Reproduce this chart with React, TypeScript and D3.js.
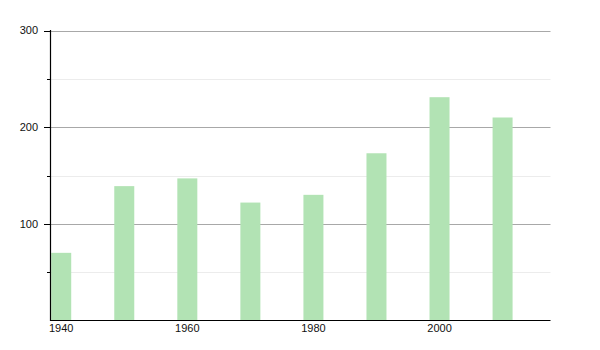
import React from "react";
import * as d3 from "d3";

const years = [1940, 1950, 1960, 1970, 1980, 1990, 2000, 2010];
const values = [70, 139, 147, 122, 130, 173, 231, 210];
const yMajorTicks = [100, 200, 300];
const yMinorTicks = [50, 150, 250];
const xTickLabels = [1940, 1960, 1980, 2000];

export default function App() {
  const W = 600, H = 350;
  const x = d3.scaleLinear().domain([1938.3, 2017.6]).range([50.5, 550.5]);
  const y = d3.scaleLinear().domain([0, 300]).range([320.5, 30.5]);
  const barW = 20;
  const font = "'Liberation Sans', Arial, sans-serif";
  return (
    <svg width={W} height={H} style={{ position: "absolute", left: 0, top: 0 }}>
      <rect width={W} height={H} fill="#fff" />
      {yMinorTicks.map((t) => (
        <line key={"mg" + t} x1={50.5} x2={550.5} y1={Math.round(y(t)) + 0.5} y2={Math.round(y(t)) + 0.5} stroke="#ececec" />
      ))}
      {yMajorTicks.map((t) => (
        <line key={"g" + t} x1={50.5} x2={550.5} y1={Math.round(y(t)) + 0.5} y2={Math.round(y(t)) + 0.5} stroke="#a8a8a8" />
      ))}
      {years.map((yr, i) => (
        <rect key={yr} x={x(yr) - barW / 2} y={y(values[i])} width={barW} height={y(0) - y(values[i])} fill="#b2e3b4" />
      ))}
      <line x1={50.5} x2={50.5} y1={30} y2={321} stroke="#000" strokeWidth={1.2} />
      <line x1={50} x2={550.5} y1={320.5} y2={320.5} stroke="#000" strokeWidth={1.2} />
      {yMajorTicks.map((t) => (
        <g key={"t" + t}>
          <line x1={44} x2={50.5} y1={Math.round(y(t)) + 0.5} y2={Math.round(y(t)) + 0.5} stroke="#000" />
          <text x={38} y={y(t)} dy="0.35em" textAnchor="end" fontFamily={font} fontSize={11} fill="#111">{t}</text>
        </g>
      ))}
      {yMinorTicks.map((t) => (
        <line key={"mt" + t} x1={47} x2={50.5} y1={Math.round(y(t)) + 0.5} y2={Math.round(y(t)) + 0.5} stroke="#000" />
      ))}
      {xTickLabels.map((t) => (
        <text key={"x" + t} x={x(t)} y={328} dy="0.35em" textAnchor="middle" fontFamily={font} fontSize={11} fill="#111">{t}</text>
      ))}
    </svg>
  );
}
